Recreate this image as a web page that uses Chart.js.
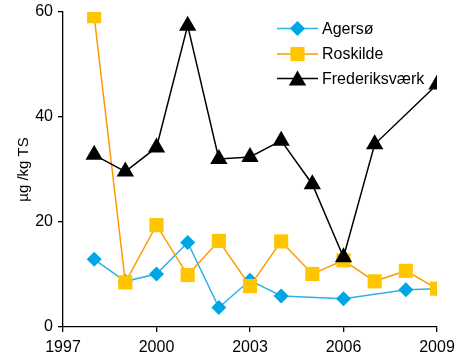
<!DOCTYPE html>
<html>
<head>
<meta charset="utf-8">
<script src="https://cdn.jsdelivr.net/npm/chart.js@4/dist/chart.umd.min.js"></script>
<style>
  html, body { margin: 0; padding: 0; background: #fff; }
  #wrap { width: 457px; height: 356px; }
</style>
</head>
<body>
<div id="wrap"><canvas id="c" width="457" height="356"></canvas></div>
<script>
// Sampling years and measured concentrations (µg/kg TS); null = no sample
const years = [1998, 1999, 2000, 2001, 2002, 2003, 2004, 2005, 2006, 2007, 2008, 2009];
const agersoe = [12.9, 8.7, 10.1, 16.1, 3.7, 8.9, 5.9, null, 5.4, null, 7.1, 7.3];
const roskilde = [59.2, 8.5, 19.4, 9.9, 16.4, 7.8, 16.3, 10.1, 12.7, 8.7, 10.7, 7.3];
const frederiksvaerk = [32.8, 29.6, 34.2, 57.4, 32.0, 32.4, 35.5, 27.2, 13.3, 34.8, null, 46.2];

const xTicks = [1997, 2000, 2003, 2006, 2009];
const yTicks = [0, 20, 40, 60];
const yTitle = 'µg /kg TS';

const FONT = '"Liberation Sans", Arial, sans-serif';

function toPoints(vals) {
  const pts = [];
  vals.forEach((v, i) => { if (v !== null) pts.push({ x: years[i], y: v }); });
  return pts;
}

const series = [
  { label: 'Agersø', data: agersoe, line: '#2fb0e6', fill: '#00a6e4', style: 'rectRot', radius: 7.5, order: 3 },
  { label: 'Roskilde', data: roskilde, line: '#ff9a00', fill: '#ffc600', style: 'rect', radius: 10, order: 2 },
  { label: 'Frederiksværk', data: frederiksvaerk, line: '#000000', fill: '#000000', style: 'triangle', radius: 10, order: 1 }
];

// Draws a marker shape centred at (x, y)
function marker(ctx, style, x, y, r, color) {
  ctx.save();
  ctx.fillStyle = color;
  ctx.beginPath();
  if (style === 'rect') {
    const s = Math.SQRT1_2 * r;
    ctx.rect(x - s, y - s, 2 * s, 2 * s);
  } else if (style === 'rectRot') {
    ctx.moveTo(x, y - r); ctx.lineTo(x + r, y); ctx.lineTo(x, y + r); ctx.lineTo(x - r, y);
    ctx.closePath();
  } else {
    for (let k = 0; k < 3; k++) {
      const a = k * 2 * Math.PI / 3;
      const px = x + Math.sin(a) * r, py = y - Math.cos(a) * r;
      if (k === 0) ctx.moveTo(px, py); else ctx.lineTo(px, py);
    }
    ctx.closePath();
  }
  ctx.fill();
  ctx.restore();
}

// Legend in the upper right corner of the plot
const legendPlugin = {
  id: 'insideLegend',
  afterDraw(chart) {
    const ctx = chart.ctx;
    const rows = [28.5, 54, 78.5];
    series.forEach((s, i) => {
      const y = rows[i];
      ctx.save();
      ctx.strokeStyle = s.line;
      ctx.lineWidth = 1.5;
      ctx.beginPath();
      ctx.moveTo(277, y); ctx.lineTo(318, y);
      ctx.stroke();
      ctx.restore();
      marker(ctx, s.style, 297.5, s.style === 'triangle' ? y + 2 : y, s.radius, s.fill);
      ctx.save();
      ctx.fillStyle = '#000';
      ctx.font = '16px ' + FONT;
      ctx.textAlign = 'left';
      ctx.textBaseline = 'middle';
      ctx.fillText(s.label, 322, y + 1);
      ctx.restore();
    });
  }
};

new Chart(document.getElementById('c'), {
  type: 'line',
  data: {
    datasets: series.map(s => ({
      label: s.label,
      data: toPoints(s.data),
      borderColor: s.line,
      borderWidth: 1.5,
      backgroundColor: s.fill,
      pointBackgroundColor: s.fill,
      pointBorderColor: s.fill,
      pointBorderWidth: 0,
      pointStyle: s.style,
      pointRadius: s.radius,
      pointHoverRadius: s.radius,
      tension: 0,
      fill: false,
      order: s.order
    }))
  },
  options: {
    responsive: false,
    animation: false,
    events: [],
    layout: { padding: { left: 0, right: 20, top: 12, bottom: 0 } },
    plugins: {
      legend: { display: false },
      tooltip: { enabled: false }
    },
    scales: {
      x: {
        type: 'linear',
        min: 1997,
        max: 2009,
        afterBuildTicks(scale) { scale.ticks = xTicks.map(v => ({ value: v })); },
        afterFit(scale) {
          scale.height = 29;
          scale.paddingLeft = 0;
          scale.paddingRight = 0;
        },
        ticks: {
          color: '#000',
          font: { size: 16, family: FONT },
          padding: 6,
          maxRotation: 0,
          callback: v => String(v)
        },
        grid: { drawOnChartArea: false, drawTicks: true, tickLength: 5, color: '#000', lineWidth: 1.3 },
        border: { color: '#000', width: 1.3 }
      },
      y: {
        min: 0,
        max: 60,
        afterBuildTicks(scale) { scale.ticks = yTicks.map(v => ({ value: v })); },
        afterFit(scale) {
          scale.width = 63;
          scale.paddingTop = 0;
          scale.paddingBottom = 0;
        },
        ticks: {
          color: '#000',
          font: { size: 16, family: FONT },
          padding: 5,
          callback: v => String(v)
        },
        title: {
          display: true,
          text: yTitle,
          color: '#000',
          font: { size: 15, family: FONT },
          padding: { top: 15, bottom: 0 }
        },
        grid: { drawOnChartArea: false, drawTicks: true, tickLength: 5, color: '#000', lineWidth: 1.3 },
        border: { color: '#000', width: 1.3 }
      }
    }
  },
  plugins: [legendPlugin]
});
</script>
</body>
</html>
